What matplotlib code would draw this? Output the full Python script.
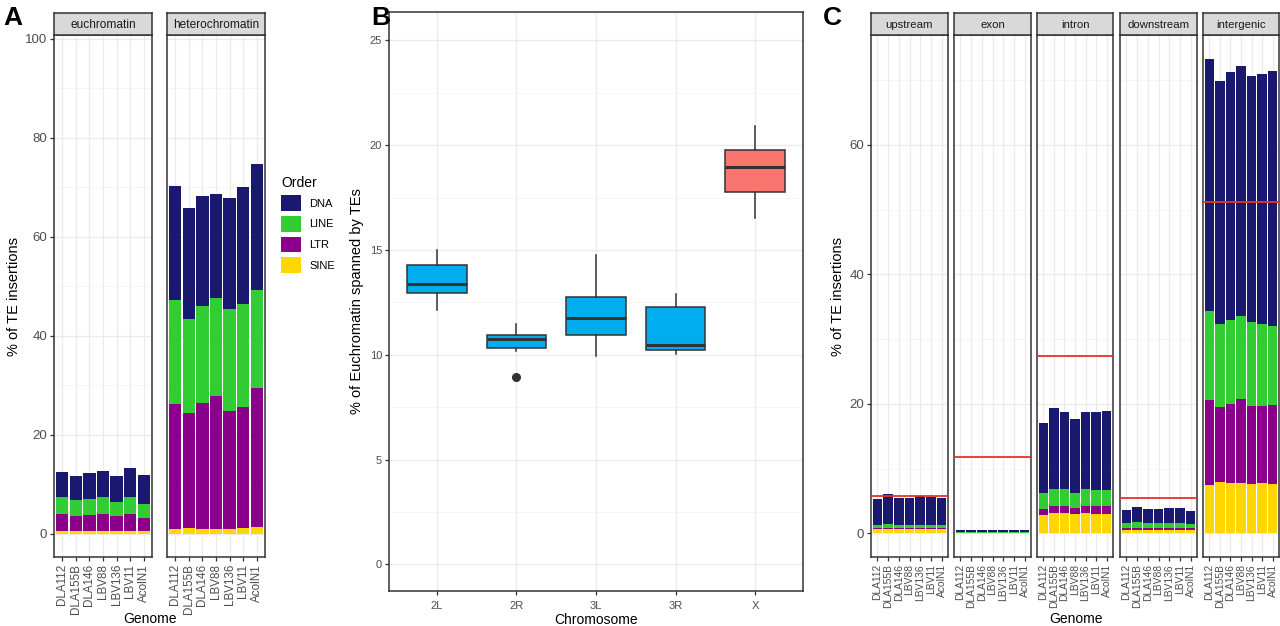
import matplotlib
matplotlib.use("Agg")
import matplotlib.pyplot as plt
from matplotlib.patches import Patch
import numpy as np

plt.rcParams['font.family'] = ['Liberation Sans', 'DejaVu Sans']

W, H = 1280, 626
genomes = ["DLA112", "DLA155B", "DLA146", "LBV88", "LBV136", "LBV11", "AcolN1"]
orders = ["DNA", "LINE", "LTR", "SINE"]
order_colors = {"DNA": "#191970", "LINE": "#32CD32", "LTR": "#8B008B", "SINE": "#FFD700"}
stack_order = ["SINE", "LTR", "LINE", "DNA"]  # bottom to top

# Panel A: % of TE insertions by chromatin (segment heights)
eu_SINE = [0.65, 0.65, 0.6, 0.6, 0.6, 0.6, 0.6]
eu_LTR = [3.35, 3.05, 3.3, 3.5, 3.0, 3.5, 2.6]
eu_LINE = [3.4, 3.2, 3.2, 3.3, 2.9, 3.3, 2.9]
eu_DNA = [5.2, 4.9, 5.2, 5.4, 5.2, 6.0, 5.8]

het_SINE = [1.05, 1.2, 1.1, 1.0, 1.0, 1.3, 1.4]
het_LTR = [25.15, 23.3, 25.4, 26.9, 23.8, 24.4, 28.0]
het_LINE = [21.0, 18.9, 19.5, 19.8, 20.6, 20.7, 19.8]
het_DNA = [23.0, 22.4, 22.3, 21.0, 22.4, 23.7, 25.5]

# Panel B: boxplot stats per chromosome
chromosomes = ["2L", "2R", "3L", "3R", "X"]
box_low = [12.12, 10.16, 9.95, 10.05, 16.53]
box_q1 = [12.95, 10.30, 10.92, 10.24, 17.77]
box_med = [13.39, 10.76, 11.74, 10.48, 18.95]
box_q3 = [14.27, 10.94, 12.75, 12.29, 19.75]
box_high = [15.02, 11.48, 14.78, 12.91, 20.90]
box_outliers = [[], [8.93], [], [], []]
box_colors = ["#00AEEF", "#00AEEF", "#00AEEF", "#00AEEF", "#F8766D"]

# Panel C: % of TE insertions by genomic region (segment heights)
regions = ["upstream", "exon", "intron", "downstream", "intergenic"]
up_SINE = [0.6, 0.6, 0.6, 0.6, 0.6, 0.6, 0.6]
up_LTR = [0.2, 0.2, 0.2, 0.2, 0.2, 0.2, 0.2]
up_LINE = [0.5, 0.6, 0.5, 0.5, 0.55, 0.5, 0.45]
up_DNA = [4.0, 4.6, 4.2, 4.2, 4.4, 4.3, 4.15]

ex_SINE = [0.05, 0.05, 0.05, 0.05, 0.05, 0.05, 0.05]
ex_LTR = [0.05, 0.05, 0.05, 0.05, 0.05, 0.05, 0.05]
ex_LINE = [0.05, 0.05, 0.05, 0.05, 0.05, 0.05, 0.05]
ex_DNA = [0.3, 0.4, 0.35, 0.35, 0.4, 0.4, 0.4]

in_SINE = [2.8, 3.2, 3.1, 2.95, 3.15, 3.05, 3.05]
in_LTR = [1.0, 1.05, 1.15, 0.95, 1.1, 1.15, 1.15]
in_LINE = [2.4, 2.65, 2.65, 2.3, 2.55, 2.5, 2.5]
in_DNA = [10.9, 12.4, 11.9, 11.5, 11.9, 12.0, 12.15]

down_SINE = [0.55, 0.55, 0.55, 0.55, 0.55, 0.55, 0.55]
down_LTR = [0.25, 0.25, 0.25, 0.25, 0.25, 0.25, 0.25]
down_LINE = [0.8, 0.9, 0.85, 0.85, 0.85, 0.8, 0.7]
down_DNA = [1.95, 2.35, 2.05, 2.15, 2.3, 2.25, 2.0]

ig_SINE = [7.5, 7.9, 7.8, 7.7, 7.6, 7.7, 7.6]
ig_LTR = [13.1, 11.6, 12.2, 13.0, 12.1, 12.0, 12.2]
ig_LINE = [13.8, 12.8, 13.0, 12.9, 12.9, 12.6, 12.2]
ig_DNA = [38.9, 37.6, 38.2, 38.6, 38.1, 38.7, 39.4]

expected = [5.8, 11.8, 27.4, 5.4, 51.1]

fig = plt.figure(figsize=(W / 100, H / 100), dpi=100)

def px_axes(x0, y0, x1, y1, **kw):
    return fig.add_axes([x0 / W, 1 - y1 / H, (x1 - x0) / W, (y1 - y0) / H], **kw)

GRID = "#EBEBEB"
SPINE = "#333333"
TICKC = "#4D4D4D"

def style(ax, ysize=9.5):
    for s in ax.spines.values():
        s.set_color(SPINE)
        s.set_linewidth(1.1)
    ax.set_axisbelow(True)
    ax.grid(True, which="major", color=GRID, lw=0.9)
    ax.grid(True, which="minor", axis="y", color="#F4F4F4", lw=0.6)
    ax.tick_params(which="major", color=SPINE, length=3, width=0.9, pad=2,
                   labelcolor=TICKC, labelsize=ysize)
    ax.tick_params(which="minor", length=0)

def strip(x0, x1, label, size):
    s = px_axes(x0, 13, x1, 35)
    s.set_facecolor("#D9D9D9")
    s.set_xticks([]); s.set_yticks([])
    for sp in s.spines.values():
        sp.set_color(SPINE); sp.set_linewidth(1.1)
    s.text(0.5, 0.47, label, ha="center", va="center", fontsize=size, color="#1A1A1A",
           transform=s.transAxes)

def stacked(ax, data, xlabsize):
    x = np.arange(len(genomes))
    bottom = np.zeros(len(genomes))
    for o in stack_order:
        v = np.array(data[o])
        ax.bar(x, v, bottom=bottom, width=0.9, color=order_colors[o], edgecolor="none", zorder=2)
        bottom += v
    ax.set_xlim(-0.6, len(genomes) - 0.4)
    ax.set_xticks(x)
    ax.set_xticklabels(genomes, rotation=90, fontsize=xlabsize)

# ---------- Panel A ----------
A_data = [
    ("euchromatin", {"SINE": eu_SINE, "LTR": eu_LTR, "LINE": eu_LINE, "DNA": eu_DNA}, 54, 152),
    ("heterochromatin", {"SINE": het_SINE, "LTR": het_LTR, "LINE": het_LINE, "DNA": het_DNA}, 167, 265),
]
for i, (name, d, x0, x1) in enumerate(A_data):
    ax = px_axes(x0, 35, x1, 557)
    style(ax)
    stacked(ax, d, 8.4)
    ax.set_ylim(-4.65, 100.8)
    ax.set_yticks([0, 20, 40, 60, 80, 100])
    ax.set_yticks([10, 30, 50, 70, 90], minor=True)
    if i == 0:
        ax.set_ylabel("% of TE insertions", fontsize=10.5, labelpad=3)
    else:
        ax.tick_params(axis="y", which="both", left=False, labelleft=False)
    strip(x0, x1, name, 8.6)
fig.text(150 / W, 1 - 619 / H, "Genome", ha="center", va="center", fontsize=10)

handles = [Patch(facecolor=order_colors[o], edgecolor="none") for o in orders]
fig.legend(handles, orders, loc="upper left", bbox_to_anchor=(279 / W, 1 - 174 / H),
           frameon=False, title="Order", title_fontsize=10, fontsize=8,
           handlelength=1.8, handleheight=1.8, labelspacing=0.45, handletextpad=0.7,
           alignment="left", borderaxespad=0, borderpad=0.2)

# ---------- Panel B ----------
axB = px_axes(389, 12, 803, 591)
style(axB, ysize=8)
stats = []
for i, c in enumerate(chromosomes):
    stats.append({"whislo": box_low[i], "q1": box_q1[i], "med": box_med[i],
                  "q3": box_q3[i], "whishi": box_high[i], "fliers": box_outliers[i], "label": c})
bp = axB.bxp(stats, positions=np.arange(1, len(chromosomes) + 1), widths=0.75, patch_artist=True,
             showcaps=False,
             boxprops=dict(edgecolor=SPINE, lw=1.1),
             medianprops=dict(color=SPINE, lw=2.2),
             whiskerprops=dict(color=SPINE, lw=1.1),
             flierprops=dict(marker="o", markerfacecolor=SPINE, markeredgecolor=SPINE, markersize=5.5))
for patch, col in zip(bp["boxes"], box_colors):
    patch.set_facecolor(col)
    patch.set_zorder(2)
axB.set_xlim(0.4, len(chromosomes) + 0.6)
axB.set_ylim(-1.27, 26.35)
axB.set_yticks([0, 5, 10, 15, 20, 25])
axB.set_yticks([2.5, 7.5, 12.5, 17.5, 22.5], minor=True)
axB.set_xticks(np.arange(1, len(chromosomes) + 1))
axB.set_xticklabels(chromosomes, fontsize=8)
axB.tick_params(axis="x", pad=4)
axB.set_xlabel("Chromosome", fontsize=10, labelpad=2)
axB.set_ylabel("% of Euchromatin spanned by TEs", fontsize=10.5, labelpad=4)

# ---------- Panel C ----------
C_data = [
    {"SINE": up_SINE, "LTR": up_LTR, "LINE": up_LINE, "DNA": up_DNA},
    {"SINE": ex_SINE, "LTR": ex_LTR, "LINE": ex_LINE, "DNA": ex_DNA},
    {"SINE": in_SINE, "LTR": in_LTR, "LINE": in_LINE, "DNA": in_DNA},
    {"SINE": down_SINE, "LTR": down_LTR, "LINE": down_LINE, "DNA": down_DNA},
    {"SINE": ig_SINE, "LTR": ig_LTR, "LINE": ig_LINE, "DNA": ig_DNA},
]
C_x = [(871, 948), (954, 1031), (1037, 1113), (1120, 1197), (1203, 1279)]
for i, (name, d, (x0, x1)) in enumerate(zip(regions, C_data, C_x)):
    ax = px_axes(x0, 35, x1, 557)
    style(ax)
    stacked(ax, d, 7.4)
    ax.axhline(expected[i], color="#E8332A", lw=1.3, zorder=3)
    ax.set_ylim(-3.67, 76.97)
    ax.set_yticks([0, 20, 40, 60])
    ax.set_yticks([10, 30, 50, 70], minor=True)
    if i == 0:
        ax.set_ylabel("% of TE insertions", fontsize=10.5, labelpad=3)
    else:
        ax.tick_params(axis="y", which="both", left=False, labelleft=False)
    strip(x0, x1, name, 8.2)
fig.text(1076 / W, 1 - 619 / H, "Genome", ha="center", va="center", fontsize=10)

# Panel letters
for lab, x in [("A", 3), ("B", 371), ("C", 823)]:
    fig.text(x / W, 1 - 18 / H, lab, ha="left", va="center", fontsize=19, fontweight="bold")

fig.savefig("out.png", dpi=100)
